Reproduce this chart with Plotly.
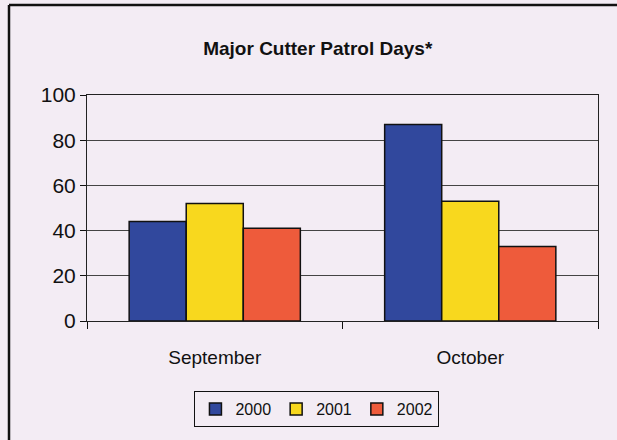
import plotly.graph_objects as go

categories = ["September", "October"]
years = ["2000", "2001", "2002"]
values_2000 = [44, 87]
values_2001 = [52, 53]
values_2002 = [41, 33]
colors = ["#31489d", "#f8d81e", "#ee5b3b"]
title_text = "Major Cutter Patrol Days*"

FONT = "Liberation Sans Narrow, Arial Narrow, Liberation Sans, Arial, sans-serif"
BG = "#f3ecf4"

fig = go.Figure()
for name, vals, col in zip(years, [values_2000, values_2001, values_2002], colors):
    fig.add_trace(go.Bar(
        x=categories, y=vals, name=name,
        marker=dict(color=col, line=dict(color="#111111", width=1.5)),
    ))

fig.update_layout(
    width=617, height=440,
    margin=dict(l=87, r=19, t=95, b=119),
    paper_bgcolor=BG, plot_bgcolor=BG,
    barmode="group", bargap=0.33, bargroupgap=0,
    font=dict(family=FONT, color="#111111"),
    title=dict(text="<b>" + title_text + "</b>", x=0.515, xanchor="center",
               y=1 - 48 / 440, yanchor="middle",
               font=dict(size=19, family=FONT, color="#111111")),
    showlegend=True,
    legend=dict(orientation="h", x=0.45, xanchor="center", y=-0.31, yanchor="top",
                bgcolor=BG, bordercolor="#111111", borderwidth=1,
                font=dict(size=16, family=FONT, color="#111111"),
                itemwidth=30, traceorder="normal"),
)

fig.update_yaxes(range=[0, 100], dtick=20, showgrid=True, gridcolor="#444444", gridwidth=1,
                 ticks="outside", ticklen=6, tickcolor="#111111",
                 showline=True, linecolor="#222222", linewidth=1, mirror=True,
                 tickfont=dict(size=21, family=FONT, color="#111111"), zeroline=False)
fig.update_xaxes(ticks="outside", tickson="boundaries", ticklen=7, tickcolor="#111111",
                 showline=True, linecolor="#222222", linewidth=1, mirror=True,
                 ticklabelstandoff=19,
                 tickfont=dict(size=19, family=FONT, color="#111111"))

# outer chart border (top and left visible in the reference)
x_left = (9 - 87) / 511
y_top = (321 - 5) / 226
fig.add_shape(type="line", xref="paper", yref="paper", x0=x_left, x1=x_left, y0=-1.0, y1=y_top,
              line=dict(color="#111111", width=2.5))
fig.add_shape(type="line", xref="paper", yref="paper", x0=x_left, x1=1.2, y0=y_top, y1=y_top,
              line=dict(color="#111111", width=2.5))

fig.write_html("out.html", config={"displayModeBar": False},
               post_script="document.body.style.margin='0';")
